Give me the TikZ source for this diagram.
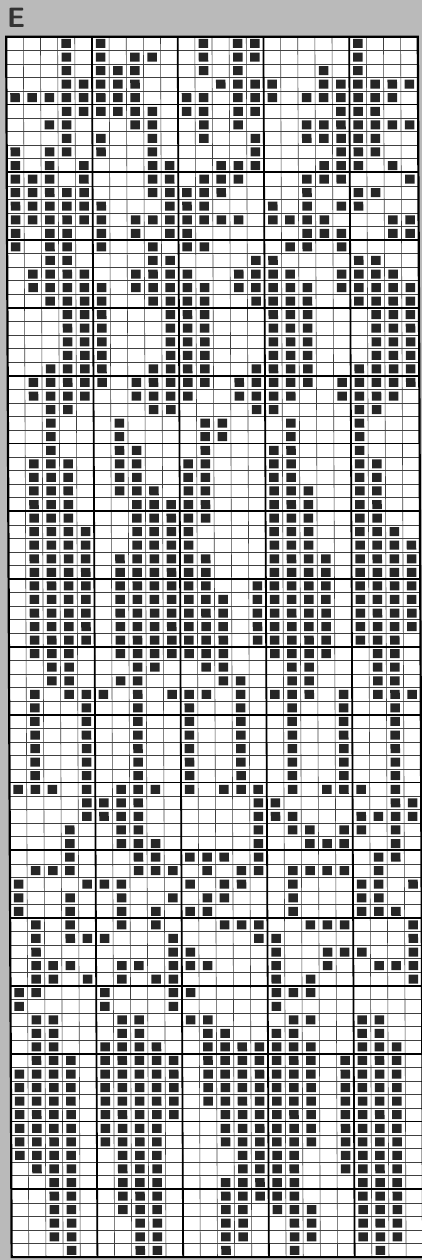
\documentclass[tikz,border=0pt]{standalone}
\usepackage{tikz}

\begin{document}
\begin{tikzpicture}[x=1pt,y=-1pt,
	thin line/.style={line width=0.6pt,black!75},
	thick line/.style={line width=1.8pt,black},
	stitch/.style={fill=black!85}]
	\useasboundingbox (0,0) rectangle (422,1260);
	\fill[black!27] (0,0) rectangle (422,1260);
	\draw (3.5,18) node[right,black!80,font=\sffamily\bfseries\fontsize{28}{28}\selectfont](title){E};
	% chart area: 24 columns, 90 rows (the scan leans a little)
	\begin{scope}[xslant=-0.0045]
	\fill[white] (6,36.7) rectangle (417.6,1257.1);
	\foreach \i in {1,...,23}
		\draw[thin line] ({6+\i*17.15},36.7) -- ({6+\i*17.15},1257.1);
	\foreach \j in {1,...,89}
		\draw[thin line] (6,{36.7+\j*13.56}) -- (417.6,{36.7+\j*13.56});
	% filled cells, one list per row
	\foreach \cols [count=\r from 0] in {
		{3,5,11,13,14,20},
		{3,5,7,8,11,13,14,20},
		{3,5,6,7,11,13,18,20},
		{3,4,5,6,7,12,13,14,15,18,19,20,21,22,23},
		{0,1,2,3,4,5,6,7,10,11,13,14,15,17,18,19,20,21,22},
		{3,4,5,6,7,8,10,11,13,14,19,20,21},
		{2,3,7,8,11,13,17,18,19,20,21,22,23},
		{3,5,8,11,14,17,18,19,20,21},
		{0,2,3,5,8,14,19,20,21},
		{0,2,4,8,9,12,13,14,18,19,20,22},
		{0,1,2,4,8,9,11,12,13,17,18,19,23},
		{0,1,2,3,4,8,9,10,11,12,17,20,21},
		{0,1,2,3,4,5,9,10,11,15,17,19,20},
		{0,1,2,3,4,5,7,8,9,10,11,12,13,15,16,17,18,22,23},
		{0,2,3,5,7,9,10,17,18,19,22,23},
		{0,2,3,5,8,10,11,16,17,19},
		{2,3,8,9,14,15,20,21},
		{1,2,3,4,7,8,9,10,13,14,15,16,19,20,21,22},
		{1,2,3,4,5,7,8,9,10,11,13,14,15,16,17,19,20,21,22,23},
		{2,3,4,5,8,9,10,11,14,15,16,17,20,21,22,23},
		{3,4,5,9,10,11,15,16,17,21,22,23},
		{3,4,5,9,10,11,15,16,17,21,22,23},
		{3,4,5,9,10,11,15,16,17,21,22,23},
		{3,4,5,9,10,11,15,16,17,21,22,23},
		{2,3,4,5,8,9,10,11,14,15,16,17,20,21,22,23},
		{1,2,3,4,5,7,8,9,10,11,13,14,15,16,17,19,20,21,22,23},
		{1,2,3,4,7,8,9,10,13,14,15,16,19,20,21,22},
		{2,3,8,9,14,15,20,21},
		{2,6,11,12,16,20},
		{2,6,11,12,16,20},
		{2,6,7,11,15,16,20},
		{1,2,3,6,7,10,11,15,16,20,21},
		{1,2,3,6,7,10,11,15,16,20,21},
		{1,2,3,6,7,8,10,11,15,16,17,20,21},
		{1,2,3,7,8,9,10,11,15,16,17,20,21},
		{1,2,3,7,8,9,10,11,15,16,17,20,21},
		{1,2,3,4,7,8,9,10,15,16,17,20,21,22},
		{1,2,3,4,7,8,9,10,15,16,17,20,21,22,23},
		{1,2,3,4,6,7,8,9,10,11,15,16,17,18,20,21,22,23},
		{1,2,3,4,6,7,8,9,10,11,15,16,17,18,20,21,22,23},
		{1,2,3,4,6,7,8,9,10,11,14,15,16,17,18,20,21,22,23},
		{1,2,3,4,6,7,8,9,10,11,12,14,15,16,17,18,20,21,22,23},
		{1,2,3,4,6,7,8,9,10,11,12,14,15,16,17,18,20,21,22,23},
		{1,2,3,4,6,7,8,9,10,11,12,14,15,16,17,18,20,21,22,23},
		{1,2,3,4,6,7,8,9,10,11,12,14,15,16,17,18,20,21,22},
		{1,2,3,6,7,8,9,10,11,12,15,16,17,18,21,22},
		{2,3,7,8,11,12,16,17,21,22},
		{2,3,6,7,12,13,16,17,21,22},
		{1,3,4,5,7,9,10,11,13,15,16,17,19,21,22,23},
		{1,4,7,10,13,16,19,22},
		{1,4,7,10,13,16,19,22},
		{1,4,7,10,13,16,19,22},
		{1,4,7,10,13,16,19,22},
		{1,4,7,10,13,16,19,22},
		{1,4,7,10,13,16,19,22},
		{0,1,2,4,6,7,8,10,12,13,14,16,18,19,20,22},
		{4,5,6,7,14,15,22,23},
		{4,5,6,7,14,15,16,20,21,22,23},
		{3,6,7,14,16,17,19,20,22},
		{3,6,7,8,14,17,18,19,22},
		{3,7,8,10,11,12,14,21,22},
		{1,2,3,7,8,9,11,13,14,16,17,18,19,21},
		{0,4,5,6,10,12,13,16,20,21,23},
		{0,3,6,9,11,12,16,20,21},
		{0,3,6,8,10,11,16,20,21,22},
		{1,3,6,8,12,13,14,17,18,19,23},
		{1,3,4,5,9,14,15,23},
		{1,9,10,15,18,19,20,23},
		{1,2,3,6,7,9,10,11,15,18,21,22,23},
		{1,2,4,6,8,9,15,17,23},
		{0,1,5,9,10,15,16,17},
		{0,5,9,15},
		{1,2,6,7,10,11,16,17,20,21},
		{1,2,6,7,11,12,15,16,20,21},
		{1,2,5,6,7,8,11,12,13,14,15,16,17,20,21,22},
		{1,2,3,5,6,7,8,9,11,12,13,14,15,16,17,19,20,21,22},
		{0,1,2,3,5,6,7,8,9,11,12,13,14,15,16,17,19,20,21,22},
		{0,1,2,3,5,6,7,8,9,11,12,13,14,15,16,17,19,20,21,22},
		{0,1,2,3,5,6,7,8,9,11,12,13,14,15,16,17,19,20,21,22},
		{0,1,2,3,5,6,7,8,9,12,13,14,15,16,17,19,20,21,22},
		{0,1,2,3,5,6,7,8,12,13,14,15,16,17,19,20,21,22},
		{0,1,2,3,5,6,7,8,12,13,14,15,16,17,19,20,21,22},
		{0,1,2,3,6,7,8,13,14,15,16,19,20,21,22},
		{1,2,3,6,7,8,13,14,15,16,19,20,21,22},
		{2,3,6,7,8,12,13,14,15,16,20,21,22},
		{2,3,6,7,8,12,13,14,15,16,20,21,22},
		{2,3,6,7,8,12,13,15,16,17,20,21,22},
		{2,3,7,8,12,13,16,17,20,21,22},
		{2,3,7,8,12,13,16,17,20,21,22},
		{3,7,8,12,16,21}}
		\foreach \c in \cols
			\fill[stitch] ({6+(\c+0.5)*17.15-4.75},{36.7+(\r+0.5)*13.56-4.5}) rectangle +(9.5,9);
	% heavy lines every five cells
	\foreach \i in {5,10,15,20}
		\draw[thick line] ({6+\i*17.15},36.7) -- ({6+\i*17.15},1257.1);
	\foreach \j in {5,10,...,85}
		\draw[thick line] (6,{36.7+\j*13.56}) -- (417.6,{36.7+\j*13.56});
	\draw[line width=2.2pt] (6,36.7) rectangle (417.6,1257.1);
	\end{scope}
\end{tikzpicture}
\end{document}
